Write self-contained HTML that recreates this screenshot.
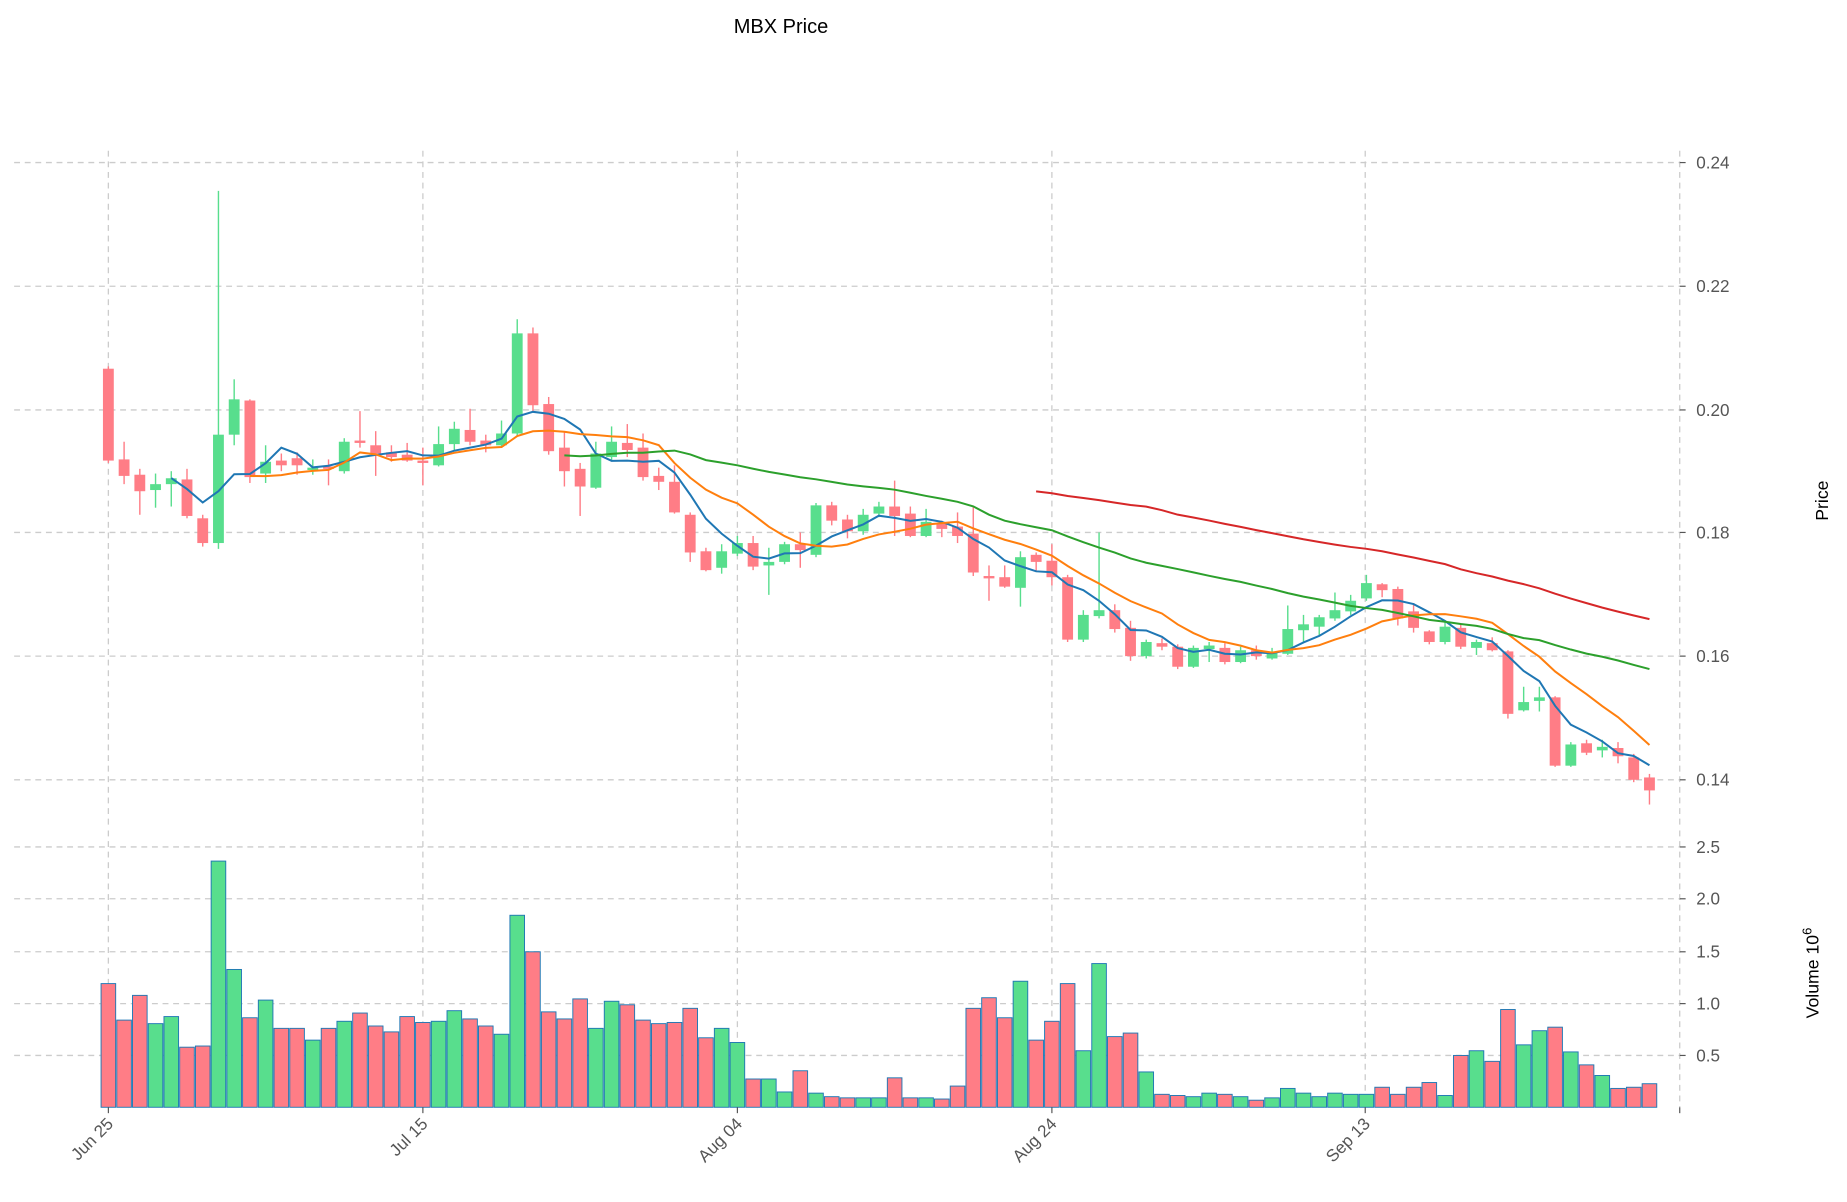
<!DOCTYPE html>
<html><head><meta charset="utf-8">
<style>
html,body{margin:0;padding:0;background:#fff;}
svg{display:block;font-family:"Liberation Sans","DejaVu Sans",sans-serif;}
</style></head>
<body>
<svg id="c" width="1847" height="1202" viewBox="0 0 1568 1020.4" xmlns="http://www.w3.org/2000/svg">
<rect width="1568" height="1021" fill="#fff"/>
<text x="663" y="28" font-size="17" text-anchor="middle" fill="#000">MBX Price</text>
<g id="grid" stroke="#cccccc" stroke-width="1.1" stroke-dasharray="5,4" fill="none"></g>
<g id="vol"></g>
<g id="cand"></g>
<g id="ma" fill="none" stroke-width="1.7"></g>
<g id="lab" font-size="14.5" fill="#555"></g>
<text x="1552" y="425" font-size="15" fill="#000" text-anchor="middle" transform="rotate(-90 1552 425)">Price</text>
<text x="1544" y="826" font-size="15" fill="#000" text-anchor="middle" transform="rotate(-90 1544 826)">Volume  10<tspan font-size="11" dy="-6">6</tspan></text>
</svg>
<script>
const NS="http://www.w3.org/2000/svg";
function el(p,t,a){const e=document.createElementNS(NS,t);for(const k in a)e.setAttribute(k,a[k]);p.appendChild(e);return e;}
const G=document.getElementById('grid'),V=document.getElementById('vol'),C=document.getElementById('cand'),M=document.getElementById('ma'),L=document.getElementById('lab');
const py=[[0.24,138],[0.22,243],[0.20,348],[0.18,452],[0.16,557],[0.14,662]];
py.forEach(([v,y])=>{el(G,'line',{x1:12,x2:1426,y1:y,y2:y});const t=el(L,'text',{x:1440,y:y+5});t.textContent=v.toFixed(2);el(L,'line',{x1:1426,x2:1431,y1:y,y2:y,stroke:'#555'});});
const vy=[[2.5,719],[2.0,763],[1.5,808],[1.0,852],[0.5,896]];
vy.forEach(([v,y])=>{el(G,'line',{x1:12,x2:1426,y1:y,y2:y});const t=el(L,'text',{x:1440,y:y+5});t.textContent=v.toFixed(1);el(L,'line',{x1:1426,x2:1431,y1:y,y2:y,stroke:'#555'});});
const xs=[[92,'Jun 25'],[359,'Jul 15'],[626,'Aug 04'],[893,'Aug 24'],[1159,'Sep 13'],[1426,'']];
xs.forEach(([x,s])=>{el(G,'line',{x1:x,x2:x,y1:128,y2:700});el(G,'line',{x1:x,x2:x,y1:705,y2:940});el(L,'line',{x1:x,x2:x,y1:940,y2:945,stroke:'#555'});
 if(s){const t=el(L,'text',{x:x+5,y:955,'text-anchor':'end',transform:`rotate(-45 ${x+5} 955)`});t.textContent=s;}});
const D=[[313,391,311,393],[390,404,375,411],[403,417,398,437],[416,411,402,431],[411,406,400,430],[407,438,398,440],[440,461,437,464],[461,369,162,466],[369,339,322,378],[340,405,339,410],
[402,392,378,410],[391,395,385,400],[389,395,384,403],[399,397,390,403],[396,398,390,412],[400,375,372,402],[374,376,349,380],[378,385,366,404],[384,388,378,392],[386,391,376,392],
[391,393,380,412],[395,377,362,396],[377,364,358,383],[365,375,347,378],[374,378,369,384],[378,368,357,380],[368,283,271,370],[283,344,278,349],[343,383,337,386],[380,400,366,413],
[398,413,393,438],[414,385,375,415],[388,375,362,391],[376,382,360,388],[380,405,368,408],[404,409,397,416],[409,435,395,436],[437,469,435,477],[468,484,465,485],[482,468,462,487],
[470,461,455,472],[461,481,455,484],[480,477,465,505],[477,462,460,479],[462,467,452,482],[471,429,427,473],[429,442,426,446],[441,451,437,457],[451,437,432,454],[436,430,426,439],
[430,438,408,455],[436,455,430,456],[455,443,432,456],[444,449,442,456],[447,455,435,461],[453,486,430,489],[489,491,480,510],[490,498,480,499],[499,473,468,515],[471,477,469,485],
[476,490,462,497],[490,543,488,545],[543,522,518,545],[523,518,452,525],[518,534,513,537],[533,557,527,561],[557,545,543,559],[546,549,542,552],[549,566,547,568],[566,550,548,567],
[551,548,545,562],[550,562,546,564],[562,552,549,563],[552,557,548,560],[559,554,550,560],[555,534,514,556],[535,530,522,545],[532,524,522,540],[525,518,503,527],[519,510,505,522],
[508,495,488,510],[496,501,495,507],[500,525,498,531],[519,533,512,537],[536,545,535,547],[545,532,528,547],[533,549,529,551],[550,545,543,556],[546,552,541,553],[553,606,552,610],
[603,596,583,604],[595,592,583,604],[592,650,591,651],[650,632,630,651],[631,639,628,641],[637,634,628,643],[635,642,630,648],[643,662,640,664],[660,671,657,683]];
const VT=[835,866,845,869,863,889,888,731,823,864,849,873,873,883,873,867,860,871,876,863,868,867,858,865,871,878,777,808,859,865,848,873,850,853,866,869,868,856,881,873,885,916,916,927,909,928,931,932,932,932,915,932,932,933,922,856,847,864,833,883,867,835,892,818,880,877,910,929,930,931,928,929,931,934,932,924,928,931,928,929,929,923,929,923,919,930,896,892,901,857,887,875,872,893,904,913,924,923,920];
const GR='#58de8d',RD='#ff7d86';
const X=i=>92+13.35*i;
D.forEach((d,i)=>{const x=X(i),up=d[1]<d[0],col=up?GR:RD;
 el(C,'line',{x1:x,x2:x,y1:d[2],y2:d[3],stroke:col,'stroke-width':1.2});
 const t=Math.min(d[0],d[1]),h=Math.max(1.5,Math.abs(d[0]-d[1]));
 el(C,'rect',{x:x-4.6,y:t,width:9.2,height:h,fill:col});
 const vt=VT[i];el(V,'rect',{x:x-6.2,y:vt,width:12.4,height:940-vt,fill:col,stroke:'#1f77b4','stroke-width':0.8});
});
function ma(n,color){let pts=[];for(let i=n-1;i<D.length;i++){let s=0;for(let k=i-n+1;k<=i;k++)s+=D[k][1];pts.push(X(i).toFixed(1)+','+(s/n).toFixed(1));}
 el(M,'polyline',{points:pts.join(' '),stroke:color});}
ma(5,'#1f77b4');ma(10,'#ff7f0e');ma(30,'#2ca02c');ma(60,'#d62728');
</script>
</body></html>
